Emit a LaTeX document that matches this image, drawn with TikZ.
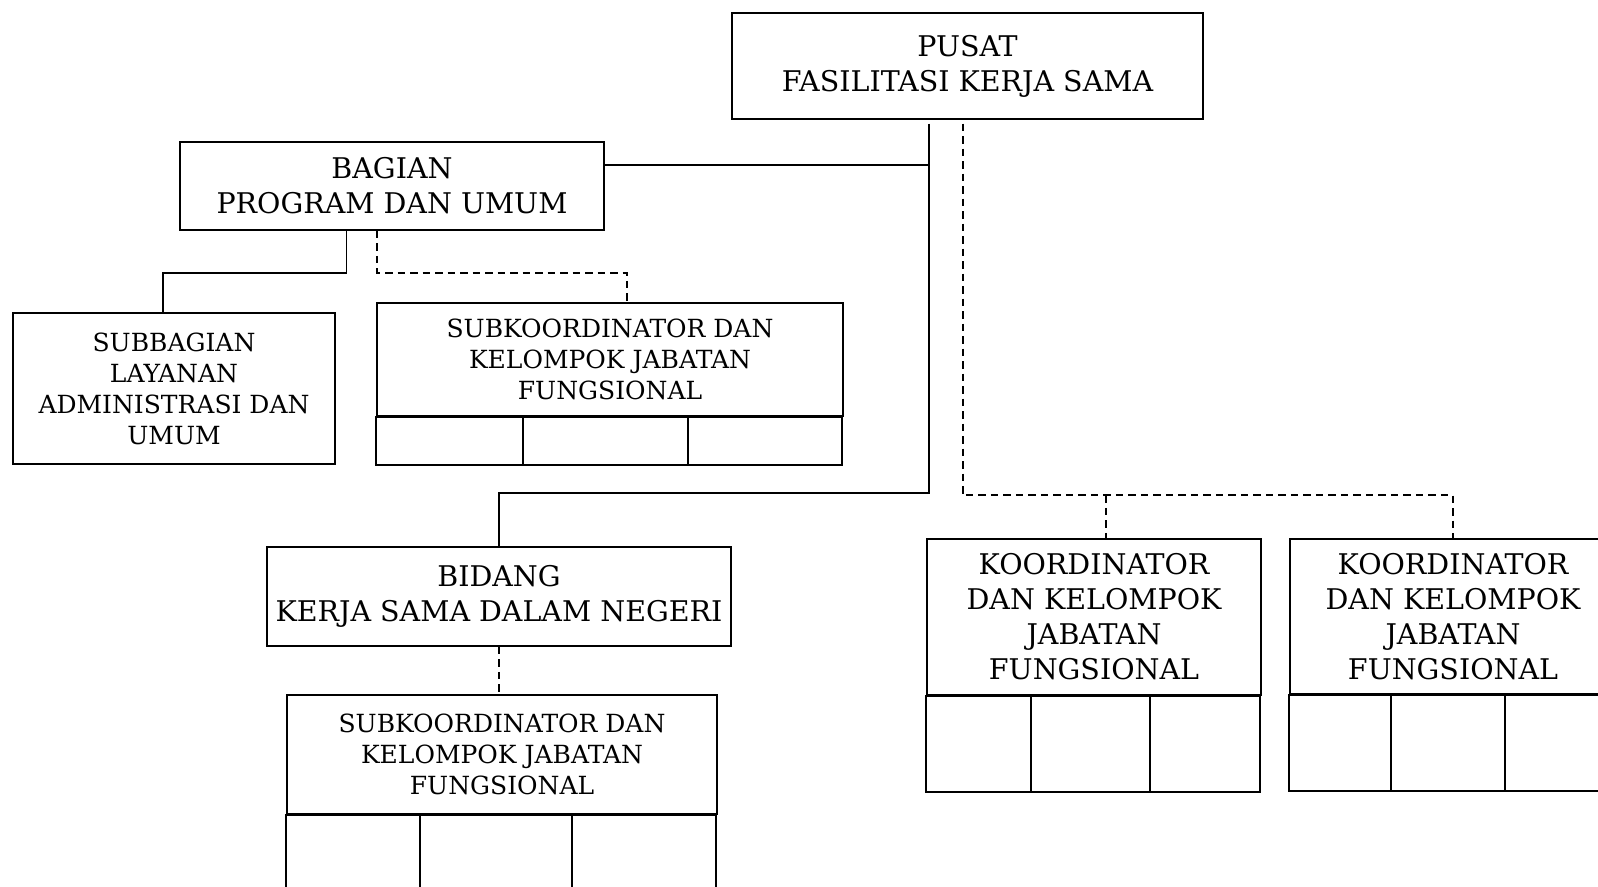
\documentclass[tikz,border=0pt]{standalone}
\usepackage{fontspec}
\setmainfont{DejaVu Serif}
\usetikzlibrary{calc}

\begin{document}
\begin{tikzpicture}[x=1pt, y=-1pt,
    unitbox/.style={draw, line width=1.9pt, align=center, inner sep=0pt},
    bigtext/.style={font=\fontsize{28.5}{35}\selectfont},
    smalltext/.style={font=\fontsize{25}{31}\selectfont},
    solidline/.style={line width=1.9pt},
    dashline/.style={line width=2pt, dash pattern=on 7.5pt off 5pt}]
    \useasboundingbox (0,0) rectangle (1598,886);
    % Units
    \node[unitbox, bigtext, minimum width=471pt, minimum height=106pt] (pusat) at (967.5,66)
        {PUSAT\\FASILITASI KERJA SAMA};
    \node[unitbox, bigtext, minimum width=424pt, minimum height=88pt] (bagian) at (392,186)
        {BAGIAN\\PROGRAM DAN UMUM};
    \node[unitbox, smalltext, minimum width=322pt, minimum height=151pt] (subbag) at (174,388.5)
        {SUBBAGIAN\\LAYANAN\\ADMINISTRASI DAN\\UMUM};
    \node[unitbox, smalltext, minimum width=466pt, minimum height=113pt] (subkoorA) at (610,359.5)
        {SUBKOORDINATOR DAN\\KELOMPOK JABATAN\\FUNGSIONAL};
    \node[unitbox, bigtext, minimum width=464pt, minimum height=99pt] (bidang) at (499,596.5)
        {BIDANG\\KERJA SAMA DALAM NEGERI};
    \node[unitbox, smalltext, minimum width=430pt, minimum height=119pt] (subkoorB) at (502,754.5)
        {SUBKOORDINATOR DAN\\KELOMPOK JABATAN\\FUNGSIONAL};
    \node[unitbox, bigtext, minimum width=334pt, minimum height=156pt] (koordA) at (1094,617)
        {KOORDINATOR\\DAN KELOMPOK\\JABATAN\\FUNGSIONAL};
    \node[unitbox, bigtext, minimum width=326pt, minimum height=155pt] (koordB) at (1453,616.5)
        {KOORDINATOR\\DAN KELOMPOK\\JABATAN\\FUNGSIONAL};
    % Empty cells under the functional groups
    \draw[solidline] (subkoorA.south west) rectangle ++(466,48);
    \foreach \x in {523,688} {
        \draw[solidline] (\x,416) -- (\x,464);
    }
    \draw[solidline] (subkoorB.south west) rectangle ++(430,90);
    \foreach \x in {420,572} {
        \draw[solidline] (\x,814) -- (\x,904);
    }
    \draw[solidline] (koordA.south west) rectangle ++(334,96);
    \foreach \x in {1031,1150} {
        \draw[solidline] (\x,695) -- (\x,791);
    }
    \draw[solidline] (koordB.south west) rectangle ++(326,96);
    \foreach \x in {1391,1505} {
        \draw[solidline] (\x,694) -- (\x,790);
    }
    % Line of command
    \coordinate (trunktop) at (928.7,123.5);
    \coordinate (trunkbot) at (928.7,493.3);
    \coordinate (bagjoin) at ([yshift=21pt]bagian.east);
    \draw[solidline] (trunktop) -- (trunkbot) -| (bidang.north);
    \draw[solidline] (bagjoin) -- (bagjoin -| trunktop);
    \draw[solidline] ([xshift=-45.5pt]bagian.south) -- ++(0,42) -| ([xshift=-11pt]subbag.north);
    % Line of coordination
    \coordinate (dashtop) at (962.7,123.5);
    \coordinate (dashbot) at (962.7,495.3);
    \draw[dashline] (dashtop) -- (dashbot) -- (dashbot -| koordB.north) -- (koordB.north);
    \draw[dashline] ([xshift=12pt]koordA.north |- dashbot) -- ([xshift=12pt]koordA.north);
    \draw[dashline] ([xshift=-15pt]bagian.south) -- ++(0,42) -| ([xshift=17pt]subkoorA.north);
    \draw[dashline] (bidang.south) -- (bidang.south |- subkoorB.north);
\end{tikzpicture}
\end{document}
